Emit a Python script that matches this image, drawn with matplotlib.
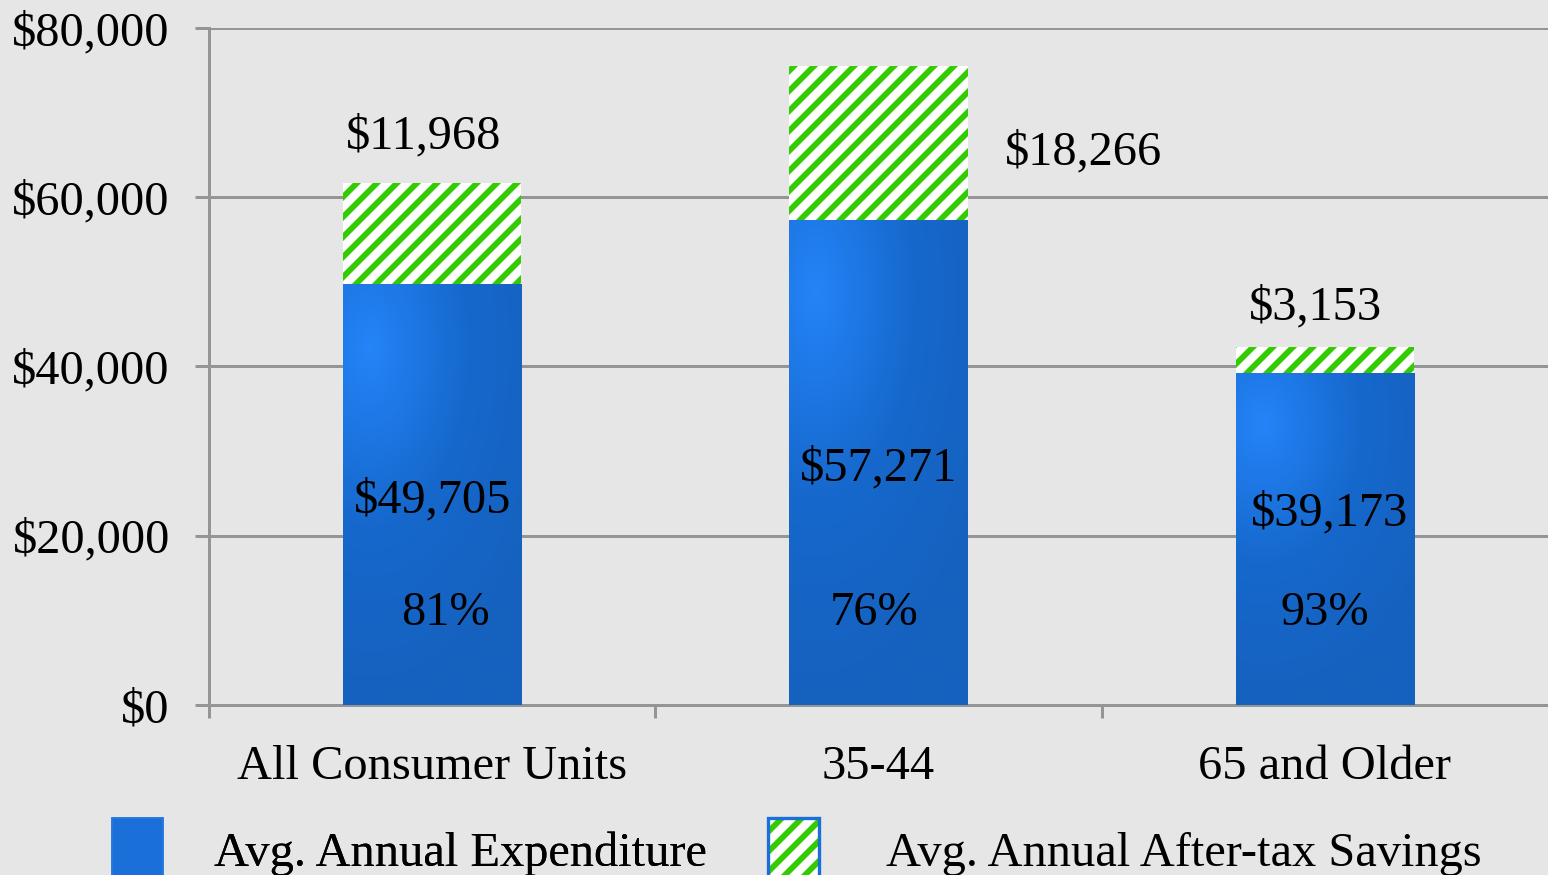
import numpy as np
import matplotlib.pyplot as plt
from matplotlib.patches import Rectangle
from matplotlib.legend_handler import HandlerTuple
from matplotlib.colors import LinearSegmentedColormap

categories = ['All Consumer Units', '35-44', '65 and Older']
expenditure = [49705, 57271, 39173]
savings = [11968, 18266, 3153]
pct_labels = ['81%', '76%', '93%']
yticks = [0, 20000, 40000, 60000, 80000]

plt.rcParams['font.family'] = ['Liberation Serif', 'DejaVu Serif']
plt.rcParams['hatch.linewidth'] = 3.5

bg = '#e6e6e6'
blue = '#1a6fd8'
green = '#33cc00'
gridc = '#959595'
fs = 29

fig = plt.figure(figsize=(12.9, 875 / 120), dpi=120, facecolor=bg)
ax = fig.add_axes([209 / 1548, 170 / 875, 1 - 209 / 1548, 677 / 875])
ax.set_facecolor(bg)

x = np.arange(len(categories))
w = 0.4
b1 = ax.bar(x, expenditure, w, color=blue, linewidth=0, zorder=3)
b2 = ax.bar(x, savings, w, bottom=expenditure, facecolor='white',
            edgecolor=green, hatch='//', linewidth=0, zorder=3)

# gradient shading on the blue bars
yy, xx = np.mgrid[0:1:200j, 0:1:200j]
cm = LinearSegmentedColormap.from_list('b', ['#2484f8', '#1668cc', '#1561be'])
for r in b1:
    r0 = np.sqrt((xx - 0.15) ** 2 + ((yy - 0.85) * 1.3) ** 2)
    img = np.clip(r0 / 1.1, 0, 1)
    im = ax.imshow(img, cmap=cm, origin='lower', aspect='auto', zorder=3.5,
                   extent=[r.get_x(), r.get_x() + r.get_width(), 0, r.get_height()])
    im.set_clip_path(r)

ax.set_xlim(-0.5, 2.5)
ax.set_ylim(0, 80000)
ax.set_yticks(yticks)
ax.set_yticklabels(['${:,}'.format(v) for v in yticks])
ax.set_xticks(x)
ax.set_xticklabels(categories)
ax.set_xticks([-0.5, 0.5, 1.5], minor=True)
ax.tick_params(axis='x', which='major', length=0, pad=24, labelsize=fs)
ax.tick_params(axis='x', which='minor', length=8, width=1.8, color=gridc, direction='out')
ax.tick_params(axis='y', length=8.5, width=1.8, color=gridc, pad=15, labelsize=fs)
ax.grid(axis='y', color=gridc, linewidth=1.8, zorder=0)
ax.set_axisbelow(True)
for s in ['top', 'right']:
    ax.spines[s].set_visible(False)
for s in ['left', 'bottom']:
    ax.spines[s].set_color(gridc)
    ax.spines[s].set_linewidth(1.8)

# value labels
ax.text(x[0] - 0.02, expenditure[0] + savings[0] + 5500, '${:,}'.format(savings[0]),
        ha='center', va='center', fontsize=fs, zorder=6)
ax.text(x[1] + 0.46, 65300, '${:,}'.format(savings[1]),
        ha='center', va='center', fontsize=fs, zorder=6)
ax.text(x[2] - 0.02, expenditure[2] + savings[2] + 4600, '${:,}'.format(savings[2]),
        ha='center', va='center', fontsize=fs, zorder=6)
exp_y = [24150, 27950, 22650]
exp_dx = [0.0, 0.0, 0.01]
for i in x:
    ax.text(x[i] + exp_dx[i], exp_y[i], '${:,}'.format(expenditure[i]),
            ha='center', va='center', fontsize=fs, zorder=6)
pct_dx = [0.03, -0.01, 0.0]
for i in x:
    ax.text(x[i] + pct_dx[i], 10850, pct_labels[i], ha='center', va='center',
            fontsize=fs, zorder=6)

# legend
h1 = Rectangle((0, 0), 1, 1, facecolor=blue, edgecolor='#2a7be0', linewidth=1)
h2a = Rectangle((0, 0), 1, 1, facecolor='white', edgecolor=green, hatch='//', linewidth=0)
h2b = Rectangle((0, 0), 1, 1, facecolor='none', edgecolor=blue, linewidth=2)
leg1 = fig.legend([h1], ['Avg. Annual Expenditure'], loc='center left',
                  bbox_to_anchor=(112 / 1548, 25 / 875), frameon=False, fontsize=fs,
                  handlelength=1.05, handleheight=1.65, handletextpad=1.05,
                  borderpad=0, borderaxespad=0)
fig.legend([(h2a, h2b)], ['Avg. Annual After-tax Savings'], loc='center left',
           bbox_to_anchor=(768 / 1548, 25 / 875), frameon=False, fontsize=fs,
           handlelength=1.05, handleheight=1.65, handletextpad=1.4,
           borderpad=0, borderaxespad=0,
           handler_map={tuple: HandlerTuple(ndivide=1, pad=0)})
fig.add_artist(leg1)

fig.savefig('out.png', dpi=120, facecolor=bg)
